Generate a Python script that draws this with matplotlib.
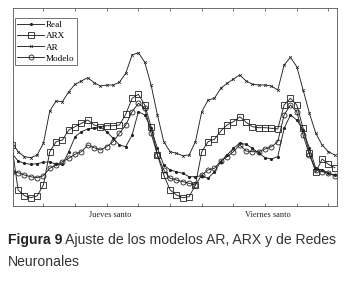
import numpy as np
import matplotlib
matplotlib.use("Agg")
import matplotlib.pyplot as plt

hours = np.arange(52)

real = [52.7, 45, 42.7, 41.7, 42.3, 43.7, 44.3, 41.7, 41.7, 54.3, 69.3, 74.3, 77, 78.3, 79.3, 74.3,
        67.7, 61, 59.3, 71, 94.3, 91, 77.7, 57.7, 41, 36, 34.3, 32.7, 29.3, 29.3, 30.3, 27.7,
        34.3, 44.3, 51, 57.7, 62.7, 61.7, 57.7, 52.7, 48.3, 47, 49.3, 77.7, 91, 86, 76, 57.7,
        37.7, 36, 32.7, 31]
arx = [61, 16, 10.3, 8.3, 10, 21, 54.3, 64.3, 66, 76, 79.3, 82.7, 86, 81, 79.3, 80.3,
       80.3, 81, 91.7, 107.7, 111.7, 101, 79.3, 51, 31, 16, 11, 8.3, 9.3, 21, 54.3, 64.3,
       66.7, 75, 81, 84.3, 89.3, 83.7, 79.3, 78.3, 78.3, 77.7, 77, 101, 107.7, 101, 77.7, 52.7,
       33.7, 47, 41.7, 38.3]
ar = [64.3, 54.3, 49.3, 48.3, 51, 62.7, 95, 105, 104.3, 114.3, 121.7, 125, 128.3, 123.3, 120, 121,
      121, 123.7, 132.7, 151, 153.3, 143.7, 121, 91, 64.3, 54.3, 52.7, 50.3, 51, 64.3, 94.3, 106,
      107.7, 117.7, 122.7, 127, 131, 125, 121.7, 121, 121, 120, 116, 141, 148.7, 139.3, 116, 92.7,
      72.7, 61, 54.3, 51]
modelo = [34.3, 33.3, 31, 29.3, 28.3, 30.3, 37.7, 41, 44.3, 47.7, 51.7, 54.3, 61, 58.3, 56, 59.3,
          64.3, 72.7, 81, 94.3, 102.7, 97.7, 72.7, 51, 36, 27.7, 26, 24.3, 22.7, 21, 31, 36,
          37.7, 45, 49.3, 54.3, 61, 55, 54.3, 54.3, 57, 59.3, 64.3, 91, 101, 94.3, 71, 51,
          36, 34.3, 32.7, 30.3]

day_labels = ["Jueves santo", "Viernes santo"]
day_pos = [15.5, 40.5]
caption_bold = "Figura 9"
caption_rest = " Ajuste de los modelos AR, ARX y de Redes"
caption_line2 = "Neuronales"

fig = plt.figure(figsize=(3.49, 2.81), dpi=100)
ax = fig.add_axes([12.7 / 349, (281 - 206) / 281, (337 - 12.7) / 349, (206 - 8.3) / 281])

lc = "#222222"
lw = 0.65
ax.plot(hours, real, color=lc, lw=lw, marker='.', ms=2.5, label="Real")
ax.plot(hours, arx, color=lc, lw=lw, marker='s', ms=4.2, mfc='none', mew=0.6, label="ARX")
ax.plot(hours, ar, color=lc, lw=lw, marker='x', ms=2, mew=0.5, label="AR")
ax.plot(hours, modelo, color=lc, lw=lw, marker='o', ms=3.6, mfc='none', mew=0.6, label="Modelo")

ax.set_xlim(0.15, 51.35)
ax.set_ylim(0, 197.7)
ax.set_xticks(np.arange(5, 51, 5))
ax.set_xticklabels([])
ax.set_yticks([])
ax.tick_params(axis='x', direction='in', length=2.5, width=0.5, top=True, bottom=True, color="#444444")
for s in ax.spines.values():
    s.set_linewidth(0.6)
    s.set_color("#555555")

for lbl, p in zip(day_labels, day_pos):
    ax.text(p, -0.025, lbl, transform=ax.get_xaxis_transform(), ha='center', va='top',
            fontsize=6, family='Liberation Serif', color="#222222")

leg = ax.legend(loc='upper left', bbox_to_anchor=(0.0, 0.96), prop={'family': 'Liberation Serif', 'size': 6.6},
                frameon=True, fancybox=False, edgecolor="#333333", handlelength=2.9,
                labelspacing=0.3, borderpad=0.3, handletextpad=0.2, borderaxespad=0.2)
leg.get_frame().set_linewidth(0.6)

fs = 10.1
t1 = fig.text(8 / 349, 1 - 244 / 281, caption_bold, fontsize=fs, fontweight='bold',
              family='Liberation Sans', color="#222222", va='baseline', ha='left')
fig.canvas.draw()
bb = t1.get_window_extent()
fig.text(bb.x1 / fig.bbox.width, 1 - 244 / 281, caption_rest, fontsize=fs,
         family='Liberation Sans', color="#333333", va='baseline', ha='left')
fig.text(8 / 349, 1 - 266 / 281, caption_line2, fontsize=fs,
         family='Liberation Sans', color="#333333", va='baseline', ha='left')

fig.savefig("out.png", dpi=100)
